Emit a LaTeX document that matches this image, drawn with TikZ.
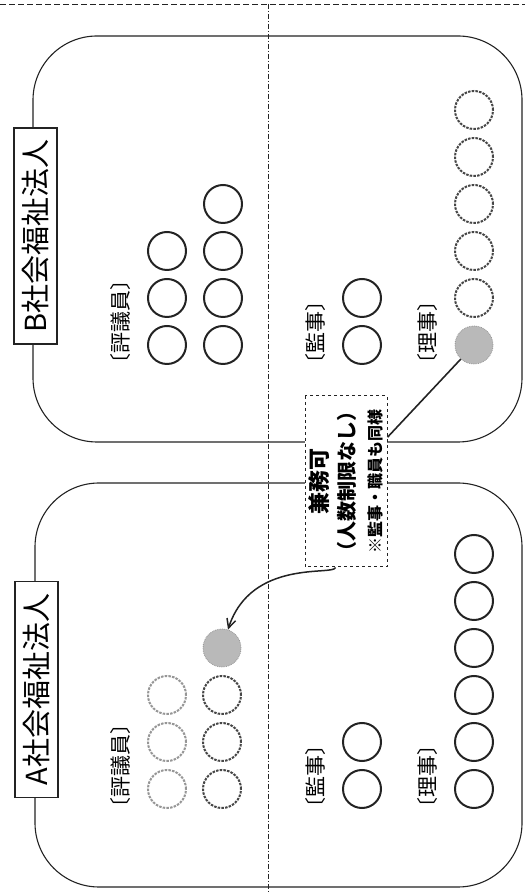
\documentclass[tikz,border=0pt]{standalone}
\usepackage{fontspec}
\newfontfamily\jpfont{Noto Sans CJK JP}
\usetikzlibrary{arrows.meta}
\definecolor{inkblack}{RGB}{35,35,35}
\definecolor{dotgray}{RGB}{70,70,70}
\definecolor{palegray}{RGB}{150,150,150}
\definecolor{hitgray}{RGB}{185,185,185}

\begin{document}
\begin{tikzpicture}[x=1pt, y=1pt,
    corp/.style={rectangle, rounded corners=64pt, draw=inkblack, line width=1.1pt},
    corplabel/.style={rectangle, draw=inkblack, fill=white, line width=1.1pt, rotate=90, minimum width=216pt, minimum height=43pt, inner sep=0pt, font=\jpfont\fontsize{29}{29}\selectfont},
    role/.style={rotate=90, anchor=west, inner sep=0pt, font=\jpfont\fontsize{21}{21}\selectfont},
    member/.style={circle, draw=inkblack, line width=2pt, minimum size=38pt, inner sep=0pt},
    shared/.style={member, draw=dotgray, dash pattern=on 2.5pt off 1.2pt},
    faint/.style={member, draw=palegray, dash pattern=on 2.5pt off 1.2pt},
    hit/.style={member, draw=palegray, fill=hitgray, line width=0.8pt, densely dotted},
    note/.style={rectangle, draw=inkblack, dashed, fill=white, line width=1pt, rotate=90, minimum width=171pt, minimum height=82pt, inner sep=0pt, align=center, font=\jpfont\bfseries\fontsize{20}{27}\selectfont},
    link/.style={inkblack, line width=1.6pt},
    arrow/.style={-{Straight Barb[length=9pt, width=9pt]}, inkblack, line width=1.5pt}
]
\useasboundingbox (0,0) rectangle (525,894);
% frame and divider
\draw[inkblack, line width=0.9pt, dash pattern=on 6pt off 3pt] (0,890) -- (525,890);
\draw[inkblack, line width=0.6pt, dash pattern=on 5pt off 2pt on 1pt off 2pt] (268,890) -- (268,0);
% the two corporations
\node[corp, minimum width=489pt, minimum height=406pt] (bcorp) at (277.5,655) {};
\node[corp, minimum width=487pt, minimum height=404pt] (acorp) at (278.5,209) {};
\node[corplabel] (bname) at (35.5,658) {B社会福祉法人};
\node[corplabel] (aname) at (36.5,204.5) {A社会福祉法人};
% B
\node[role] (bcouncil) at (121,519) {〔評議員〕};
\node[role] (baudit) at (316,519) {〔監事〕};
\node[role] (bdirect) at (428,519) {〔理事〕};
\foreach \i in {1,2,3} \node[member] (bcl\i) at (167,{549+47*(\i-1)}) {};
\foreach \i in {1,...,4} \node[member] (bcr\i) at (223,{549+47*(\i-1)}) {};
\foreach \i in {1,2} \node[member] (bau\i) at (362,{549+47*(\i-1)}) {};
\node[hit] (bhit) at (474,549) {};
\foreach \i in {1,...,5} \node[shared] (bdi\i) at (474,{549+47*\i}) {};
% A
\node[role] (acouncil) at (121,75) {〔評議員〕};
\node[role] (aaudit) at (316,75) {〔監事〕};
\node[role] (adirect) at (428,75) {〔理事〕};
\foreach \i in {1,2,3} \node[faint] (acl\i) at (167,{105+47*(\i-1)}) {};
\foreach \i in {1,2,3} \node[shared] (acr\i) at (222,{105+47*(\i-1)}) {};
\node[hit] (ahit) at (222,246) {};
\foreach \i in {1,2} \node[member] (aau\i) at (362,{105+47*(\i-1)}) {};
\foreach \i in {1,...,6} \node[member] (adi\i) at (474,{105+47*(\i-1)}) {};
% concurrent post
\node[note] (share) at (346,412.5) {{\fontsize{22}{27}\selectfont 兼務可}\\（人数制限なし）\\{\fontsize{16}{27}\selectfont ※監事・職員も同様}};
\draw[link] (bhit) -- (share);
\draw[arrow] (share) to[out=225, in=72] (ahit);
\end{tikzpicture}
\end{document}
